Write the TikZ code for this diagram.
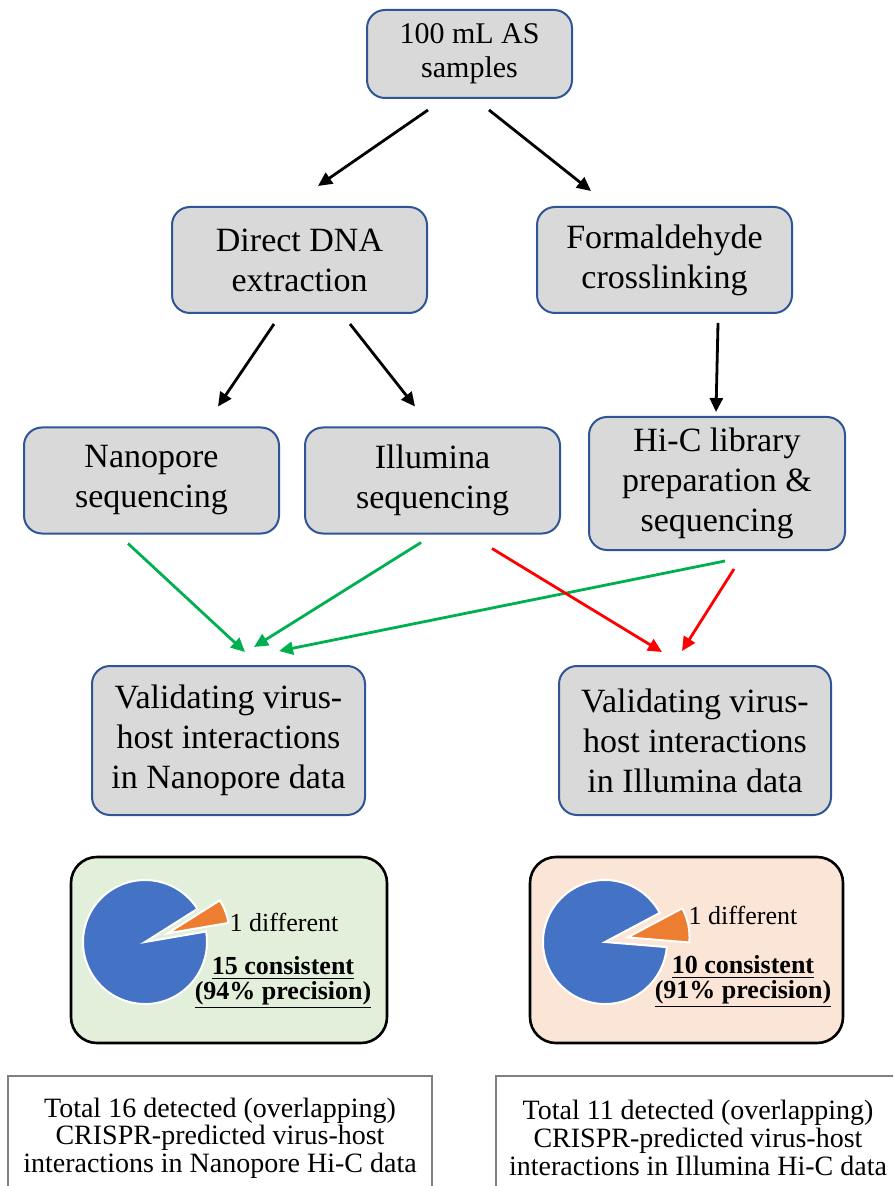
\documentclass[tikz,border=0pt]{standalone}
\usepackage{fontspec}
\setmainfont{Liberation Serif}
\usepackage{tikz}
\usetikzlibrary{positioning, calc}
\usetikzlibrary{arrows.meta}

\definecolor{boxgray}{HTML}{D9D9D9}
\definecolor{boxblue}{HTML}{2F5597}
\definecolor{lightgreen}{HTML}{E2EFDA}
\definecolor{lightorange}{HTML}{FBE5D6}
\definecolor{pieblue}{HTML}{4472C4}
\definecolor{pieorange}{HTML}{ED7D31}
\definecolor{arrgreen}{HTML}{00B050}
\definecolor{totalgray}{HTML}{808080}

\begin{document}
\begin{tikzpicture}[x=0.5pt,y=-0.5pt,>={Triangle[length=7pt,width=6.5pt]},
  proc/.style={draw=boxblue,line width=1pt,fill=boxgray,rounded corners=9pt,align=center,
               inner sep=0pt,minimum width=127.5pt,minimum height=53pt,font=\fontsize{17}{20}\selectfont},
  piebox/.style={draw=black,line width=1.3pt,rounded corners=13pt,minimum height=93pt},
  total/.style={draw=totalgray,line width=0.6pt,align=center,inner sep=0pt,
                minimum height=62pt,font=\fontsize{14}{13.8}\selectfont},
  pietext/.style={font=\fontsize{13}{15}\selectfont,inner sep=0pt},
  blk/.style={->,line width=1.4pt},
  grn/.style={->,line width=1.4pt,arrgreen},
  rd/.style={->,line width=1.4pt,red}]

\useasboundingbox (0,0) rectangle (893,1186);
\clip (0,0) rectangle (893,1186);

\node[proc,minimum width=102.5pt,minimum height=44pt,font=\fontsize{15}{17}\selectfont] (S0) at (469.5,54) {100 mL AS\\samples};

\node[proc] (D1) at (299.5,260) {Direct DNA\\extraction};
\node[proc] (F1) [right=54pt of D1] {Formaldehyde\\crosslinking};

\node[proc] (N1) at (151.5,480.5) {Nanopore\\sequencing};
\node[proc] (I1) [right=12pt of N1] {Illumina\\sequencing};
\node[proc,minimum width=128pt,minimum height=66.5pt] (H1) at (717,483.5) {Hi-C library\\preparation \&\\sequencing};

\node[proc,minimum width=136.5pt,minimum height=74.5pt] (VN) at (228.5,740.5) {Validating virus-\\host interactions\\in Nanopore data};
\node[proc,minimum width=136pt,minimum height=74.5pt] (VI) [right=96pt of VN] {Validating virus-\\host interactions\\in Illumina data};

\node[piebox,fill=lightgreen,minimum width=158pt] (PN) at (229,950) {};
\node[piebox,fill=lightorange,minimum width=156.5pt] (PI) at (686.5,950) {};

\node[total,minimum width=212pt] (TN) at (220,1138) {Total 16 detected (overlapping)\\CRISPR-predicted virus-host\\interactions in Nanopore Hi-C data};
\node[total,minimum width=202pt] (TI) at (698,1138) {Total 11 detected (overlapping)\\CRISPR-predicted virus-host\\interactions in Illumina Hi-C data};

% pie charts
\filldraw[pieblue,draw=white,line width=1pt] (145,942) -- ++(-32.25:62) arc[start angle=-32.25,end angle=-369.75,radius=62] -- cycle;
\filldraw[pieorange,draw=white,line width=1pt,shift={(-21:24)}] (145,942) -- ++(-9.75:62) arc[start angle=-9.75,end angle=-32.25,radius=62] -- cycle;
\filldraw[pieblue,draw=white,line width=1pt] (605,942) -- ++(-28:62) arc[start angle=-28,end angle=-355.3,radius=62] -- cycle;
\filldraw[pieorange,draw=white,line width=1pt,shift={(-11.6:23)}] (605,942) -- ++(4.7:62) arc[start angle=4.7,end angle=-28,radius=62] -- cycle;

\node[pietext] (dn) at (284,922) {1 different};
\node[pietext] (cn) at (283,968) {\textbf{\underline{15 consistent}}};
\node[pietext] (pn) at (283,995) {\textbf{\underline{(94\% precision)}}};
\node[pietext] (di) at (743,915) {1 different};
\node[pietext] (ci) at (743,967) {\textbf{\underline{10 consistent}}};
\node[pietext] (pi) at (743,994) {\textbf{\underline{(91\% precision)}}};

% arrows
\draw[blk] ([shift={(-41.5,11)}]S0.south) -- ([shift={(18.5,-20)}]D1.north);
\draw[blk] ([shift={(19.5,11)}]S0.south) -- ([shift={(-73.5,-15)}]F1.north);
\draw[blk] ([shift={(-25.5,10)}]D1.south) -- ([shift={(66.5,-20)}]N1.north);
\draw[blk] ([shift={(50.5,10)}]D1.south) -- ([shift={(-17.5,-20)}]I1.north);
\draw[blk] ([shift={(53.5,9)}]F1.south) -- ([shift={(-1,-4)}]H1.north);

\draw[grn] ([shift={(-23.5,9)}]N1.south) -- ([shift={(16.5,-13)}]VN.north);
\draw[grn] ([shift={(-11.5,8)}]I1.south) -- ([shift={(25.5,-18)}]VN.north);
\draw[grn] ([shift={(8,10)}]H1.south) -- ([shift={(50.5,-14)}]VN.north);
\draw[rd] ([shift={(59.5,14)}]I1.south) -- ([shift={(-33,-13)}]VI.north);
\draw[rd] ([shift={(17,18)}]H1.south) -- ([shift={(-13,-14)}]VI.north);
\end{tikzpicture}
\end{document}
